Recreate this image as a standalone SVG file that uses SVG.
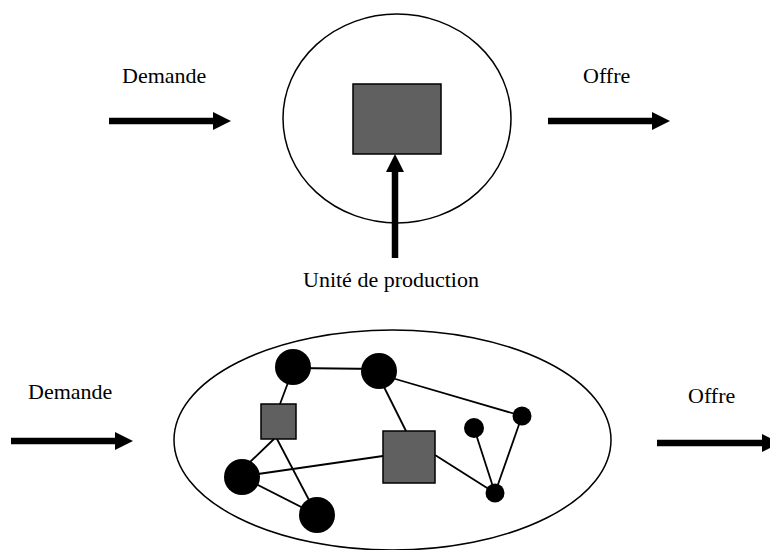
<svg xmlns="http://www.w3.org/2000/svg" width="770" height="550" viewBox="0 0 770 550">
<style>
  .lbl { font-family: "Liberation Serif", "Times New Roman", serif; font-size: 22px; fill: #000; }
  .frame { fill: none; stroke: #000; stroke-width: 1.5; }
  .unit { fill: #606060; stroke: #000; stroke-width: 1.5; }
  .dot { fill: #000; }
  .edge { stroke: #000; stroke-width: 1.8; fill: none; }
  .flow { stroke: #000; stroke-width: 6.5; fill: none; marker-end: url(#head); }
</style>
<defs>
  <marker id="head" viewBox="0 0 18 18" refX="0" refY="9" markerWidth="18" markerHeight="18" markerUnits="userSpaceOnUse" orient="auto">
    <path d="M0,0 L18,9 L0,18 Z" fill="#000"/>
  </marker>
</defs>
<rect width="770" height="550" fill="#fff"/>

<!-- Top diagram -->
<g id="top-system">
  <ellipse class="frame" cx="397" cy="118.5" rx="114" ry="104.5"/>
</g>
<g id="top-unit">
  <rect class="unit" x="353" y="84" width="88" height="70"/>
</g>
<g id="top-demande-label"><text class="lbl" x="122" y="83">Demande</text></g>
<g id="top-offre-label"><text class="lbl" x="583" y="83">Offre</text></g>
<g id="top-unit-label"><text class="lbl" x="303" y="287">Unité de production</text></g>

<!-- Bottom diagram -->
<g id="bottom-system">
  <ellipse class="frame" cx="392.5" cy="440" rx="218.5" ry="110"/>
</g>
<g id="bottom-demande-label"><text class="lbl" x="28" y="399">Demande</text></g>
<g id="bottom-offre-label"><text class="lbl" x="688" y="403">Offre</text></g>

<g id="connectors">
  <line class="flow" x1="109" y1="121" x2="213" y2="121"/>
  <line class="flow" x1="548" y1="121" x2="652" y2="121"/>
  <line class="flow" x1="395" y1="258" x2="395" y2="172"/>
  <line class="flow" x1="11" y1="441" x2="115" y2="441"/>
  <line class="flow" x1="657" y1="443" x2="762" y2="443"/>

  <line class="edge" x1="293" y1="368" x2="379" y2="369"/>
  <line class="edge" x1="289" y1="380" x2="280" y2="404"/>
  <line class="edge" x1="274" y1="439" x2="250" y2="462"/>
  <line class="edge" x1="277" y1="439" x2="309" y2="500"/>
  <line class="edge" x1="242" y1="477" x2="317" y2="515"/>
  <line class="edge" x1="258" y1="474" x2="383" y2="456"/>
  <line class="edge" x1="383" y1="385" x2="406" y2="431"/>
  <line class="edge" x1="392" y1="378" x2="522" y2="416"/>
  <line class="edge" x1="435" y1="455" x2="495" y2="493"/>
  <line class="edge" x1="474" y1="428" x2="495" y2="493"/>
  <line class="edge" x1="522" y1="416" x2="495" y2="493"/>
</g>

<g id="node-a"><circle class="dot" cx="293" cy="367" r="18"/></g>
<g id="node-b"><circle class="dot" cx="379" cy="371" r="18"/></g>
<g id="node-unit-1"><rect class="unit" x="261" y="404" width="35" height="35"/></g>
<g id="node-c"><circle class="dot" cx="242" cy="477" r="18"/></g>
<g id="node-d"><circle class="dot" cx="317" cy="515" r="18"/></g>
<g id="node-unit-2"><rect class="unit" x="383" y="431" width="52" height="52"/></g>
<g id="node-e"><circle class="dot" cx="522" cy="416" r="9.5"/></g>
<g id="node-f"><circle class="dot" cx="474" cy="428" r="10"/></g>
<g id="node-g"><circle class="dot" cx="495" cy="493" r="9.5"/></g>
</svg>
